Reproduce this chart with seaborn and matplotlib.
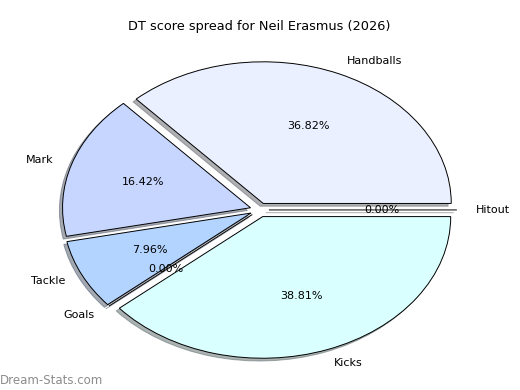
import matplotlib
matplotlib.use("Agg")
import matplotlib.pyplot as plt
import seaborn as sns

sns.set_theme(style="white")
plt.rcParams['font.family'] = ['DejaVu Sans']

categories = ["Handballs", "Mark", "Tackle", "Goals", "Kicks", "Hitout"]
values = [36.82, 16.42, 7.96, 0.0, 38.81, 0.0]
colors = ["#eaf0ff", "#c6d6ff", "#b3d4ff", "#a0c8ff", "#d9ffff", "#e0e8ff"]
title = "DT score spread for Neil Erasmus (2026)"

fig = plt.figure(figsize=(5.2, 3.9), dpi=100)
ax = fig.add_axes([0.0471, 0.0077, 0.9038, 0.908])
ax.pie(values, labels=categories, colors=colors, autopct="%1.2f%%",
       explode=[0.05] * len(values),
       shadow=dict(ox=-0.012, oy=-0.014, shade=0.6),
       startangle=0,
       wedgeprops=dict(edgecolor="black", linewidth=0.7),
       textprops=dict(fontsize=8, color="black"))
ax.set_aspect("auto")
ax.set_title(title, fontsize=9.3, pad=0, y=1.008, color="black")
fig.text(0.0, 0.008, "Dream-Stats.com", fontsize=8.5, color="#8c8c8c", ha="left", va="bottom")
fig.savefig("out.png", dpi=100, facecolor="white")
